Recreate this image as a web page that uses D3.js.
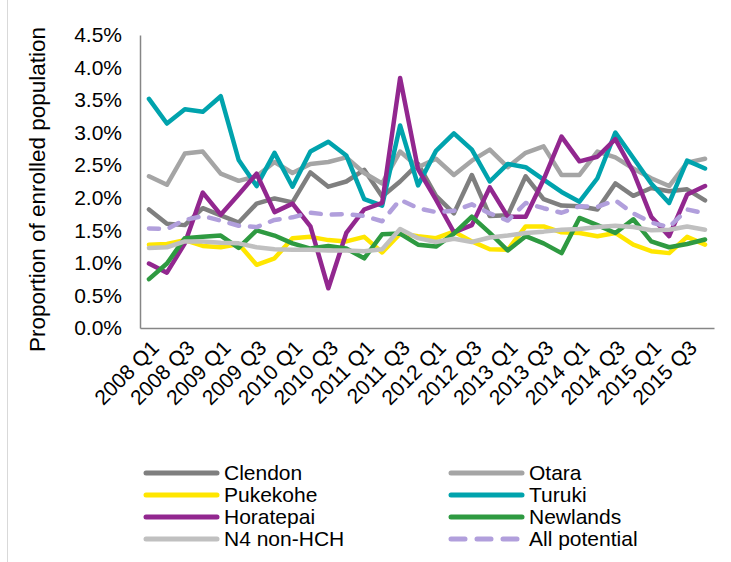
<!DOCTYPE html>
<html>
<head>
<meta charset="utf-8">
<script src="https://cdn.jsdelivr.net/npm/d3@7/dist/d3.min.js"></script>
<style>
  html, body { margin: 0; padding: 0; background: #fff; }
  svg { display: block; }
  text { font-family: "Liberation Sans", Arial, sans-serif; fill: #000; }
</style>
</head>
<body>
<svg id="chart" width="731" height="562"></svg>
<script>
// ---- DATA ----
const years = [2008, 2009, 2010, 2011, 2012, 2013, 2014, 2015];
const quarters = ["Q1", "Q2", "Q3", "Q4"];
const categories = years.flatMap(y => quarters.map(q => y + " " + q));

const seriesNames = ["Clendon", "Otara", "Pukekohe", "Turuki", "Horatepai", "Newlands", "N4 non-HCH", "All potential"];

// values in percent
const clendon   = [1.82,1.60,1.58,1.84,1.73,1.62,1.91,1.99,1.93,2.39,2.17,2.25,2.43,2.02,2.25,2.52,2.03,1.76,2.35,1.72,1.73,2.33,1.98,1.88,1.87,1.82,2.22,2.03,2.15,2.10,2.13,1.96];
const otara     = [2.33,2.20,2.68,2.71,2.37,2.26,2.33,2.55,2.38,2.52,2.55,2.62,2.38,2.22,2.71,2.47,2.60,2.35,2.57,2.74,2.47,2.69,2.79,2.35,2.35,2.71,2.62,2.45,2.30,2.18,2.54,2.60];
const pukekohe  = [1.28,1.29,1.35,1.26,1.24,1.29,0.97,1.07,1.38,1.40,1.35,1.33,1.40,1.16,1.45,1.41,1.38,1.48,1.33,1.21,1.20,1.56,1.56,1.47,1.46,1.41,1.46,1.28,1.18,1.15,1.40,1.28];
const turuki    = [3.52,3.14,3.36,3.32,3.56,2.58,2.18,2.69,2.17,2.71,2.86,2.65,1.98,1.88,3.11,2.19,2.72,2.99,2.74,2.25,2.52,2.47,2.28,2.09,1.94,2.30,3.00,2.61,2.22,1.92,2.57,2.45];
const horatepai = [0.99,0.85,1.30,2.08,1.74,2.05,2.37,1.78,1.91,1.56,0.61,1.46,1.82,1.92,3.84,2.44,1.97,1.47,1.58,2.16,1.71,1.71,2.28,2.94,2.56,2.63,2.90,2.40,1.71,1.41,2.05,2.18];
const newlands  = [0.75,0.99,1.38,1.40,1.42,1.23,1.50,1.42,1.30,1.22,1.26,1.22,1.07,1.44,1.45,1.28,1.25,1.45,1.71,1.46,1.19,1.41,1.30,1.15,1.69,1.58,1.46,1.67,1.33,1.24,1.29,1.36];
const n4nonHCH  = [1.23,1.24,1.33,1.33,1.31,1.30,1.24,1.21,1.20,1.20,1.19,1.19,1.18,1.21,1.52,1.38,1.32,1.37,1.32,1.39,1.42,1.46,1.48,1.51,1.52,1.55,1.57,1.55,1.50,1.51,1.56,1.51];
const allPotential = [1.53,1.52,1.66,1.72,1.65,1.57,1.55,1.66,1.70,1.77,1.74,1.75,1.72,1.64,1.97,1.84,1.78,1.80,1.90,1.76,1.65,1.92,1.84,1.77,1.87,1.86,1.96,1.76,1.62,1.55,1.82,1.76];

const seriesValues = [clendon, otara, pukekohe, turuki, horatepai, newlands, n4nonHCH, allPotential];

const yTicks = [0, 0.5, 1.0, 1.5, 2.0, 2.5, 3.0, 3.5, 4.0, 4.5];

// ---- STYLE ----
const colors = ["#7f7f7f", "#a5a5a5", "#ffe600", "#00a3ad", "#92278f", "#2e9a41", "#c0c0c0", "#b19fdc"];
const dashed = [false, false, false, false, false, false, false, true];
const drawOrder = [0, 1, 2, 3, 4, 5, 6, 7];

const svg = d3.select("#chart");
const W = 731, H = 562;
const plot = { left: 140, right: 714, top: 35, bottom: 328 };
const FS = 21;

// outer chart border (left edge visible)
svg.append("line").attr("x1", 7.5).attr("x2", 7.5).attr("y1", 0).attr("y2", H)
  .attr("stroke", "#d9d9d9").attr("stroke-width", 1);

const x = d3.scaleBand().domain(categories).range([plot.left, plot.right]).padding(0);
const xc = c => x(c) + x.bandwidth() / 2;
const y = d3.scaleLinear().domain([0, 4.5]).range([plot.bottom, plot.top]);

// y axis
const yAxis = d3.axisLeft(y).tickValues(yTicks).tickSize(0).tickPadding(18)
  .tickFormat(d => d.toFixed(1) + "%");
const gy = svg.append("g").attr("transform", `translate(${plot.left},0)`).call(yAxis);
gy.select(".domain").attr("stroke", "#868686").attr("stroke-width", 1.5);
gy.selectAll("text").style("font-size", FS + "px").attr("fill", "#000")
  .style("font-family", "'Liberation Sans', Arial, sans-serif");

// x axis
const xAxis = d3.axisBottom(x).tickSize(0).tickFormat("");
const gx = svg.append("g").attr("transform", `translate(0,${plot.bottom})`).call(xAxis);
gx.select(".domain").attr("stroke", "#868686").attr("stroke-width", 1.5);

// x tick labels (every other category)
const labelCats = categories.filter((c, i) => i % 2 === 0);
svg.append("g").selectAll("text").data(labelCats).enter().append("text")
  .attr("transform", d => `translate(${xc(d) + 6},${plot.bottom + 16}) rotate(-45)`)
  .attr("text-anchor", "end")
  .attr("dy", "0.35em")
  .style("font-size", FS + "px")
  .text(d => d);

// y axis title
svg.append("text")
  .attr("transform", `translate(37,${(plot.top + plot.bottom) / 2 + 8}) rotate(-90)`)
  .attr("text-anchor", "middle")
  .attr("dy", "0.35em")
  .style("font-size", "22.5px")
  .text("Proportion of enrolled population");

// lines
const line = d3.line().x((d, i) => xc(categories[i])).y(d => y(d));
const gLines = svg.append("g");
drawOrder.forEach(k => {
  gLines.append("path")
    .datum(seriesValues[k])
    .attr("d", line)
    .attr("fill", "none")
    .attr("stroke", colors[k])
    .attr("stroke-width", 4.5)
    .attr("stroke-linejoin", "round")
    .attr("stroke-linecap", "round")
    .attr("stroke-dasharray", dashed[k] ? "10,11" : null);
});

// legend
const legCols = [146, 451];
const legRows = [473, 495, 517, 539];
const legLen = 71;
const gLeg = svg.append("g");
seriesNames.forEach((name, k) => {
  const col = k % 2, row = Math.floor(k / 2);
  const lx = legCols[col], ly = legRows[row];
  gLeg.append("line")
    .attr("x1", lx).attr("x2", lx + legLen).attr("y1", ly).attr("y2", ly)
    .attr("stroke", colors[k]).attr("stroke-width", 5)
    .attr("stroke-linecap", "round")
    .attr("stroke-dasharray", dashed[k] ? "14,12" : null);
  gLeg.append("text")
    .attr("x", lx + legLen + 7).attr("y", ly).attr("dy", "0.35em")
    .style("font-size", FS + "px")
    .text(name);
});
</script>
</body>
</html>
